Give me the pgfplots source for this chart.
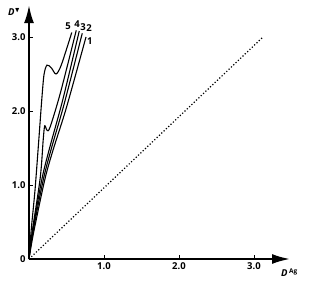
\documentclass[border=0pt]{standalone}
\usepackage{amssymb}
\usepackage{pgfplots}
\pgfplotsset{compat=1.18}
\usepackage{fontspec}
\setmainfont{Open Sans}
\usetikzlibrary{arrows.meta,calc}
\begin{document}
\begin{tikzpicture}
\begin{axis}[
  x=75pt, y=74pt,
  xmin=0, xmax=3.48, ymin=0, ymax=3.43,
  axis lines=left,
  axis line style={line width=2pt, -{Latex[length=18pt,width=10pt]}},
  xtick={1,2,3}, xticklabels={1.0,2.0,3.0},
  ytick={0,1,2,3}, yticklabels={0,1.0,2.0,3.0},
  tick style={black, line width=0.8pt},
  major tick length=4pt,
  tick align=inside,
  clip=false,
  ticklabel style={font=\fontsize{9.5}{10}\selectfont\bfseries},
  /pgf/number format/assume math mode=true,
]
\coordinate (O) at (axis cs:0,0);
% dotted diagonal
\addplot[black, line width=1.2pt, dotted] coordinates {(0,0) (3.12,3.0)};
% curve 1
\addplot[black, line width=1.1pt, smooth] coordinates {(0,0) (0.06,0.35) (0.21,1.07) (0.32,1.47) (0.5,2.05) (0.76,3.0)};
% curve 2
\addplot[black, line width=1.1pt, smooth] coordinates {(0,0) (0.05,0.35) (0.19,1.07) (0.30,1.50) (0.47,2.1) (0.71,3.05)};
% curve 3
\addplot[black, line width=1.1pt, smooth] coordinates {(0,0) (0.045,0.35) (0.17,1.07) (0.28,1.52) (0.45,2.15) (0.67,3.08)};
% curve 4
\addplot[black, line width=1.1pt, smooth, tension=0.5] coordinates {(0,0) (0.04,0.35) (0.15,1.1) (0.19,1.62) (0.21,1.8) (0.24,1.74) (0.28,1.78) (0.42,2.25) (0.63,3.09)};
% curve 5
\addplot[black, line width=1.1pt, smooth, tension=0.5] coordinates {(0,0) (0.03,0.4) (0.08,0.93) (0.13,1.6) (0.17,2.15) (0.20,2.49) (0.24,2.62) (0.30,2.58) (0.36,2.50) (0.43,2.62) (0.57,3.06)};
\node[font=\fontsize{9.5}{10}\selectfont\bfseries] at (axis cs:0.52,3.14) {5};
\node[font=\fontsize{9.5}{10}\selectfont\bfseries] at (axis cs:0.64,3.18) {4};
\node[font=\fontsize{9.5}{10}\selectfont\bfseries] at (axis cs:0.72,3.14) {3};
\node[font=\fontsize{9.5}{10}\selectfont\bfseries] at (axis cs:0.80,3.12) {2};
\node[font=\fontsize{9.5}{10}\selectfont\bfseries] at (axis cs:0.81,2.95) {1};
\node[font=\fontsize{9.5}{10}\selectfont\bfseries] at (axis cs:-0.2,3.34) {\itshape D\raisebox{0.5ex}{\fontsize{7}{7}\selectfont$\blacktriangledown$}};
\node[font=\fontsize{9.5}{10}\selectfont\bfseries] at (axis cs:3.47,-0.19) {\itshape D\,\raisebox{0.6ex}{\upshape\fontsize{6.5}{7}\selectfont Ag}};
\end{axis}
\pgfresetboundingbox
\path ($(O)+(-29pt,-36pt)$) rectangle ($(O)+(287pt,259pt)$);
\end{tikzpicture}
\end{document}
